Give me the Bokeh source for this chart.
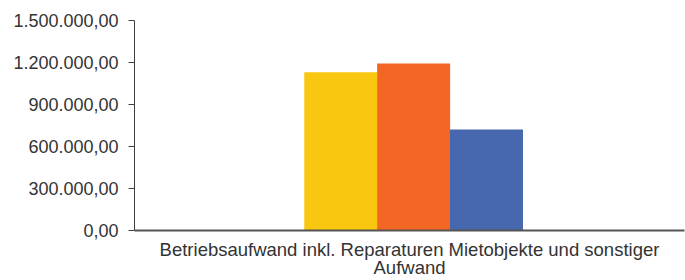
from bokeh.plotting import figure
from bokeh.models import FactorRange, Range1d, FixedTicker, ColumnDataSource, CategoricalAxis
from bokeh.transform import dodge
from bokeh.embed import file_html
from bokeh.resources import INLINE

category = ["Betriebsaufwand inkl. Reparaturen Mietobjekte und sonstiger Aufwand"]
series_1 = [1130000]
series_2 = [1193000]
series_3 = [721000]
colors = ["#FAC710", "#F46623", "#4768AF"]
y_ticks = [0, 300000, 600000, 900000, 1200000, 1500000]
y_tick_labels = ["0,00", "300.000,00", "600.000,00", "900.000,00", "1.200.000,00", "1.500.000,00"]

# the category label is wrapped on two lines
line1, line2 = category[0].rsplit(" ", 1)

src = ColumnDataSource(dict(cat=category, s1=series_1, s2=series_2, s3=series_3))

p = figure(x_range=FactorRange(*category, range_padding=0), y_range=Range1d(0, 1500000),
           width=685, height=280, output_backend="svg", toolbar_location=None,
           min_border_left=134, min_border_right=1, min_border_top=20, min_border_bottom=20)

bw = 0.1327
offs = [-0.125, 0.0075, 0.14]
for col, off, c in zip(["s1", "s2", "s3"], offs, colors):
    p.vbar(x=dodge("cat", off, range=p.x_range), top=col, width=bw, source=src,
           fill_color=c, line_color=None)

p.xgrid.visible = False
p.ygrid.visible = False
p.outline_line_color = None
p.background_fill_color = "white"
p.border_fill_color = "white"

p.yaxis.ticker = FixedTicker(ticks=y_ticks)
p.yaxis.major_label_overrides = {t: l for t, l in zip(y_ticks, y_tick_labels)}
p.yaxis.major_tick_out = 6
p.yaxis.major_tick_in = 0
p.yaxis.minor_tick_line_color = None
p.yaxis.axis_line_color = "#404040"
p.yaxis.major_tick_line_color = "#404040"
p.yaxis.major_label_text_font = "Liberation Sans"
p.yaxis.major_label_text_font_size = "18px"
p.yaxis.major_label_text_color = "#333333"
p.yaxis.major_label_standoff = 10


def style_x(ax, label, standoff):
    ax.axis_label = label
    ax.major_tick_line_color = None
    ax.major_tick_out = 0
    ax.major_tick_in = 0
    ax.minor_tick_line_color = None
    ax.major_label_text_font_size = "0px"
    ax.major_label_text_color = None
    ax.major_label_standoff = 0
    ax.axis_label_text_font = "Liberation Sans"
    ax.axis_label_text_font_size = "18.5px"
    ax.axis_label_text_font_style = "normal"
    ax.axis_label_text_color = "#333333"
    ax.axis_label_standoff = standoff


xa = p.xaxis[0]
style_x(xa, line1, 8)
xa.axis_line_color = "#555555"
xa.axis_line_width = 2

xa2 = CategoricalAxis()
style_x(xa2, line2, -6)
xa2.axis_line_color = None
p.add_layout(xa2, "below")

open("out.html", "w").write(file_html(p, INLINE))
